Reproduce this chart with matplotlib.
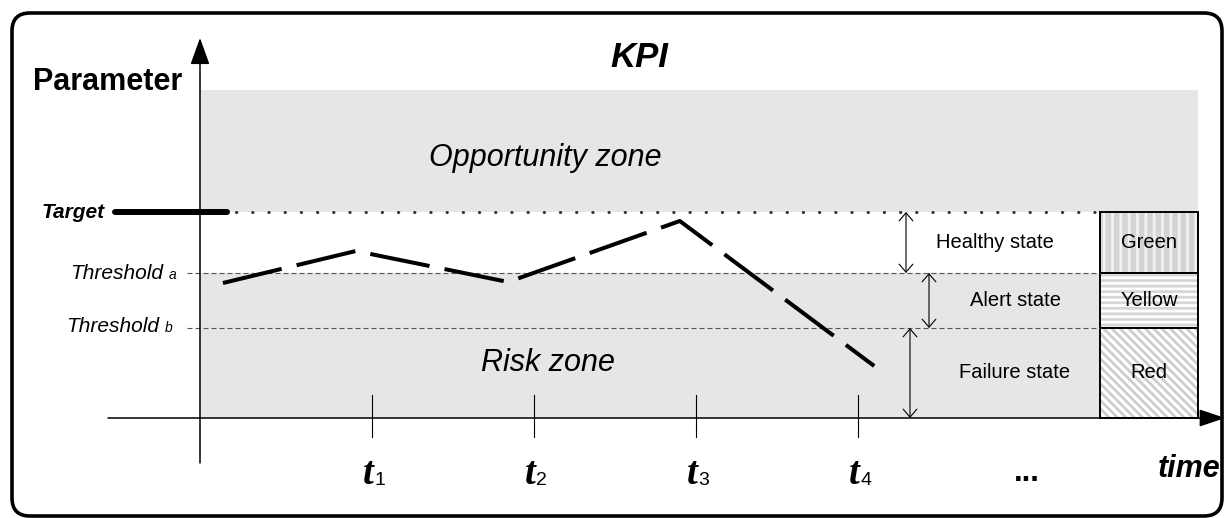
import matplotlib.pyplot as plt
from matplotlib.patches import Rectangle, FancyBboxPatch
from matplotlib.transforms import IdentityTransform

# ---------------- DATA ----------------
tick_times = [1, 2, 3, 4]
tick_names = ["1", "2", "3", "4"]
kpi_times = [0.08, 0.90, 1.84, 2.90, 4.10]
kpi_values = [135, 167, 136, 197, 52]
target = 206
threshold_a = 145
threshold_b = 90
zone_top = 328
state_names = ["Healthy state", "Alert state", "Failure state"]
state_colours = ["Green", "Yellow", "Red"]
state_bounds = [target, threshold_a, threshold_b, 0]

# ---------------- LAYOUT ----------------
W, H = 1225, 518
T0, TS, Y0 = 210, 162, 418  # pixel of t=0, pixels per time step, pixel of y=0

plt.rcParams["font.family"] = ["Liberation Sans", "DejaVu Sans"]
plt.rcParams["hatch.linewidth"] = 2.0


def px(x, y=0):
    # picture pixel -> data coordinates
    return (x - T0) / TS, Y0 - y


def xp(x):
    return px(x)[0]


fig = plt.figure(figsize=(W / 100, H / 100), dpi=100)
ax = fig.add_axes([0, 0, 1, 1])
ax.axis("off")
ax.set_xlim(xp(0), xp(W))
ax.set_ylim(Y0 - H, Y0)

# rounded frame
fig.patches.append(FancyBboxPatch((12, 2), 1210, 503, boxstyle="round,pad=0,rounding_size=18",
                                  transform=IdentityTransform(), fill=False, ec="black", lw=2.6))

# ---------------- ZONES ----------------
x_left, x_right, x_box = xp(200), xp(1198), xp(1100)
ax.add_patch(Rectangle((x_left, target), x_right - x_left, zone_top - target, fc="#e6e6e6", lw=0))
ax.add_patch(Rectangle((x_left, 0), x_right - x_left, threshold_a, fc="#e6e6e6", lw=0))

box_styles = [("#d4d4d4", "#f2f2f2", "||"), ("white", "#d6d6d6", "---"), ("white", "#cdcdcd", "\\\\\\\\")]
for i, (fc, hc, hatch) in enumerate(box_styles):
    lo, hi = state_bounds[i + 1], state_bounds[i]
    ax.add_patch(Rectangle((x_box, lo), x_right - x_box, hi - lo, fc=fc, ec=hc, hatch=hatch, lw=0))
    ax.add_patch(Rectangle((x_box, lo), x_right - x_box, hi - lo, fill=False, ec="black", lw=1.4))

# ---------------- AXES ----------------
ax.annotate("", xy=px(1225, 418), xytext=px(108, 418),
            arrowprops=dict(arrowstyle="-|>,head_length=0.8,head_width=0.27", fc="k", ec="k",
                            lw=1.1, mutation_scale=20, shrinkA=0, shrinkB=0))
ax.annotate("", xy=px(200, 38), xytext=px(200, 463),
            arrowprops=dict(arrowstyle="-|>,head_length=0.83,head_width=0.3", fc="k", ec="k",
                            lw=1.1, mutation_scale=20, shrinkA=0, shrinkB=0))
for t in tick_times:
    ax.plot([t, t], [23, -19], color="k", lw=0.8)

# ---------------- LINES ----------------
ax.plot([xp(115), xp(227)], [target, target], color="k", lw=4.3, solid_capstyle="round")
ax.plot([xp(236), xp(1100)], [target, target], color="#333333", lw=2.2,
        ls=(0, (0.1, 5.2)), dash_capstyle="round")
for thr in [threshold_a, threshold_b]:
    ax.plot([xp(187), xp(1100)], [thr, thr], color="#555555", lw=0.8, ls=(0, (4.5, 2.7)))

ax.plot(kpi_times, kpi_values, color="k", lw=2.9, ls=(0, (15, 3.8)))

# state arrows
arrow_x = [906, 929, 910]
for i, x in enumerate(arrow_x):
    lo, hi = state_bounds[i + 1], state_bounds[i]
    ax.annotate("", xy=(xp(x), hi), xytext=(xp(x), lo),
                arrowprops=dict(arrowstyle="<->,head_length=0.36,head_width=0.31", color="k",
                                lw=0.8, mutation_scale=16, shrinkA=0, shrinkB=0))

# ---------------- TEXT ----------------
ax.text(*px(639, 67), "KPI", fontsize=25, fontweight="bold", style="italic", ha="center", va="baseline")
ax.text(*px(33, 90), "Parameter", fontsize=22, fontweight="bold", ha="left", va="baseline")
ax.text(*px(545, 166), "Opportunity zone", fontsize=22, style="italic", ha="center", va="baseline")
ax.text(*px(548, 371), "Risk zone", fontsize=22, style="italic", ha="center", va="baseline")

ax.text(*px(105, 218), "Target", fontsize=15, fontweight="bold", style="italic", ha="right", va="baseline")
ax.text(*px(163, 279), "Threshold", fontsize=15, style="italic", ha="right", va="baseline")
ax.text(*px(169, 279), "a", fontsize=10, style="italic", ha="left", va="baseline")
ax.text(*px(159, 332), "Threshold", fontsize=15, style="italic", ha="right", va="baseline")
ax.text(*px(165, 332), "b", fontsize=10, style="italic", ha="left", va="baseline")

state_text_x = [995, 1016, 1015]
for i, name in enumerate(state_names):
    mid = (state_bounds[i] + state_bounds[i + 1]) / 2
    ax.text(xp(state_text_x[i]), mid, name, fontsize=14.5, ha="center", va="center")
    ax.text(xp(1149), mid, state_colours[i], fontsize=14.5, ha="center", va="center")

for t, name in zip(tick_times, tick_names):
    ax.text(t + 0.01, Y0 - 484, "t", family="Liberation Serif", fontsize=28, fontweight="bold",
            style="italic", ha="right", va="baseline")
    ax.text(t + 0.015, Y0 - 485, name, fontsize=14, ha="left", va="baseline")

ax.text(*px(1027, 481), "...", fontsize=22, fontweight="bold", ha="center", va="baseline")
ax.text(*px(1220, 477), "time", fontsize=22, fontweight="bold", style="italic", ha="right", va="baseline")

fig.savefig("out.png", dpi=100)
